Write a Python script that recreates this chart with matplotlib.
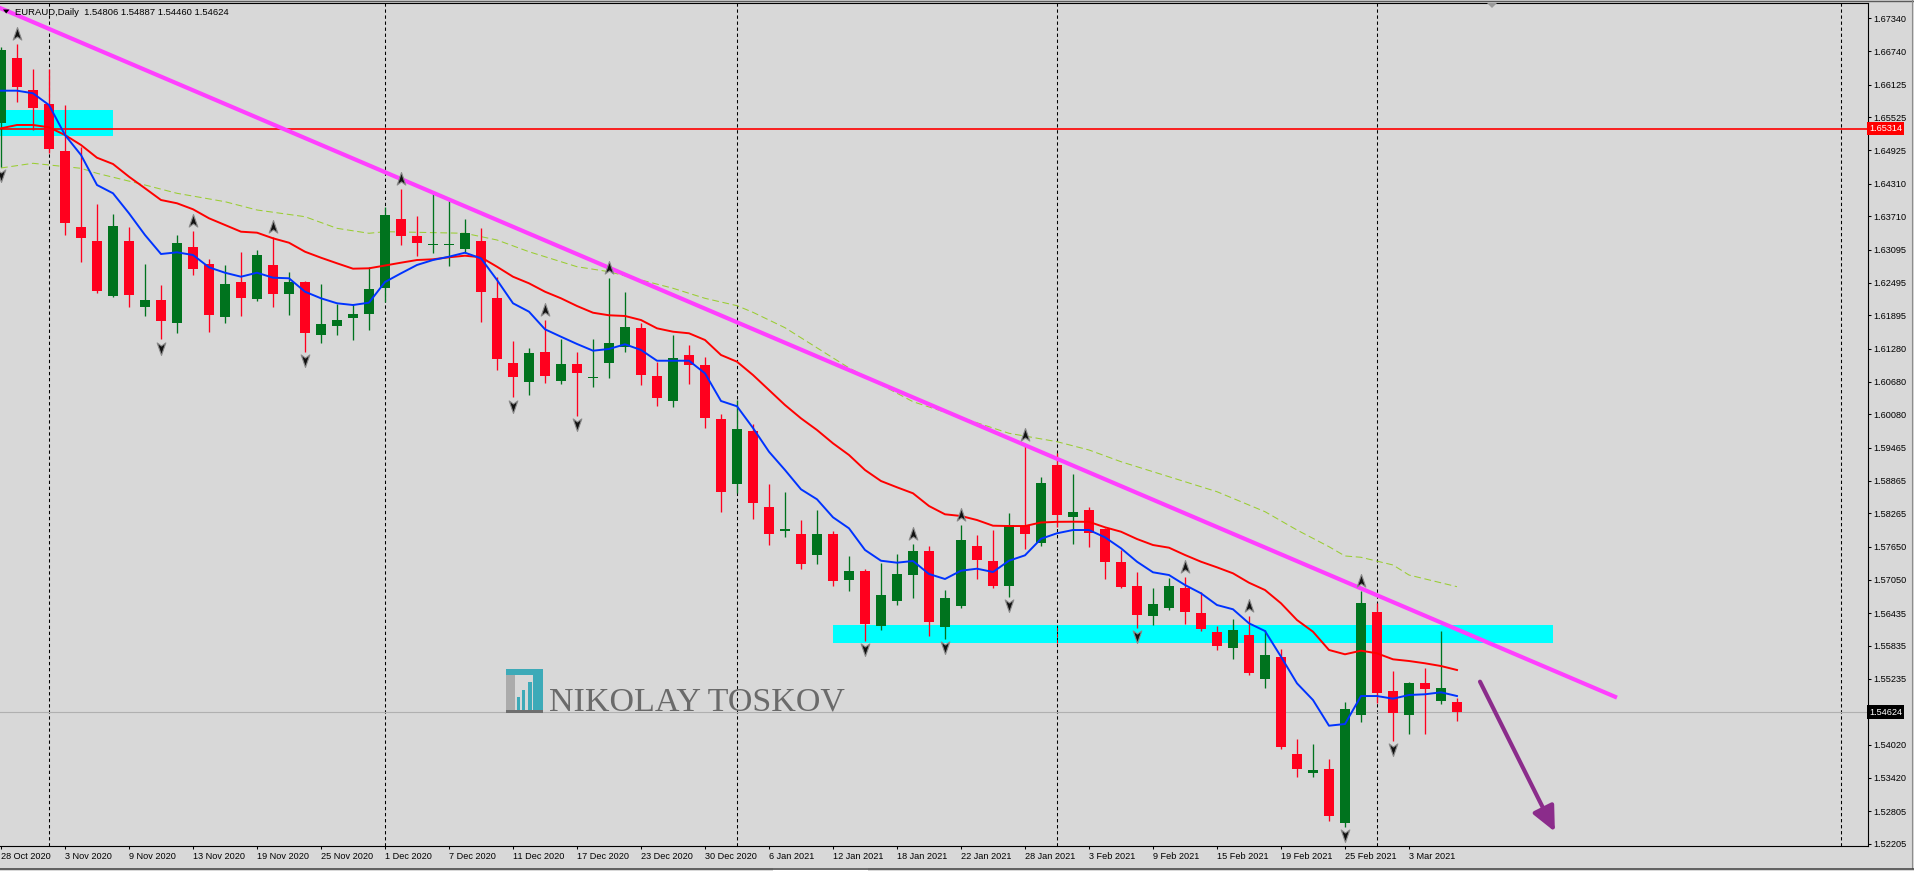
import matplotlib
matplotlib.use("Agg")
import matplotlib.pyplot as plt
import matplotlib.transforms as mtransforms
from matplotlib.patches import Rectangle, Polygon
from matplotlib.path import Path
import numpy as np

plt.rcParams['font.family'] = ['Liberation Sans', 'DejaVu Sans']

W, H = 1915, 871
BG = '#D8D8D8'
BULL = '#00731E'
BEAR = '#FF001E'

# EURAUD daily candles, 28 Oct 2020 .. 8 Mar 2021
opens = [
    1.65421, 1.66618, 1.66026, 1.65769, 1.64907, 1.63509, 1.63258, 1.62255, 1.63258, 1.62042,
    1.62176, 1.61749, 1.63148, 1.62836, 1.61870, 1.62506, 1.62194, 1.62818, 1.62292, 1.62506,
    1.61540, 1.61705, 1.61852, 1.61925, 1.62402, 1.63661, 1.63349, 1.63184, 1.63179, 1.63105,
    1.63258, 1.62218, 1.61027, 1.60678, 1.61223, 1.60697, 1.61003, 1.60746, 1.61027, 1.61320,
    1.61663, 1.60783, 1.60330, 1.61168, 1.60985, 1.59995, 1.58798, 1.59775, 1.58382, 1.57948,
    1.57887, 1.57508, 1.57887, 1.57049, 1.57209, 1.56206, 1.56664, 1.57141, 1.57575, 1.56188,
    1.56573, 1.57667, 1.57392, 1.56939, 1.58033, 1.57727, 1.59152, 1.58204, 1.58321, 1.57978,
    1.57374, 1.56934, 1.56389, 1.56536, 1.56897, 1.56439, 1.56096, 1.55803, 1.56036, 1.55235,
    1.55633, 1.53855, 1.53511, 1.53579, 1.52595, 1.54569, 1.56457, 1.55009, 1.54575, 1.55156,
    1.54831, 1.54806]
highs = [
    1.66810, 1.66869, 1.66411, 1.66411, 1.65751, 1.64986, 1.63936, 1.63747, 1.63509, 1.62836,
    1.62451, 1.63368, 1.63446, 1.62928, 1.62818, 1.63056, 1.63093, 1.63336, 1.62689, 1.62520,
    1.62469, 1.62103, 1.62103, 1.62786, 1.63886, 1.64211, 1.63716, 1.64132, 1.64009, 1.63661,
    1.63501, 1.62592, 1.61425, 1.61291, 1.61809, 1.61461, 1.61223, 1.61461, 1.62585, 1.62323,
    1.61760, 1.61045, 1.61534, 1.61351, 1.61137, 1.60087, 1.60343, 1.59898, 1.58804, 1.58657,
    1.58144, 1.58327, 1.57942, 1.57489, 1.57245, 1.57355, 1.57520, 1.57704, 1.57667, 1.56860,
    1.58052, 1.57868, 1.57960, 1.58272, 1.59518, 1.58932, 1.59372, 1.58987, 1.58388, 1.57990,
    1.57594, 1.57185, 1.56897, 1.57075, 1.57099, 1.56829, 1.56200, 1.56329, 1.56389, 1.56127,
    1.55779, 1.54129, 1.54038, 1.53763, 1.54802, 1.56848, 1.56622, 1.55376, 1.55174, 1.55431,
    1.56109, 1.54887]
lows = [
    1.64614, 1.65811, 1.65293, 1.64865, 1.63368, 1.62867, 1.62299, 1.62240, 1.62053, 1.61888,
    1.61456, 1.61577, 1.62634, 1.61595, 1.61760, 1.61888, 1.62163, 1.62053, 1.61907, 1.61223,
    1.61393, 1.61540, 1.61443, 1.61626, 1.62145, 1.63184, 1.62983, 1.63032, 1.62799, 1.63032,
    1.61778, 1.60893, 1.60393, 1.60435, 1.60660, 1.60631, 1.60050, 1.60587, 1.60752, 1.61228,
    1.60618, 1.60233, 1.60220, 1.60636, 1.59836, 1.58296, 1.58633, 1.58157, 1.57686, 1.57838,
    1.57251, 1.57343, 1.56939, 1.56848, 1.55931, 1.56133, 1.56591, 1.56719, 1.56023, 1.55968,
    1.56536, 1.57067, 1.56903, 1.56738, 1.57617, 1.57672, 1.58021, 1.57704, 1.57655, 1.57067,
    1.56903, 1.56169, 1.56224, 1.56499, 1.56243, 1.56114, 1.55766, 1.55601, 1.55308, 1.55070,
    1.53941, 1.53438, 1.53438, 1.52632, 1.52522, 1.54447, 1.54795, 1.54098, 1.54226, 1.54226,
    1.54776, 1.54460]
closes = [
    1.66759, 1.66086, 1.65701, 1.64939, 1.63582, 1.63318, 1.62346, 1.63527, 1.62273, 1.62176,
    1.61797, 1.63221, 1.62750, 1.61907, 1.62469, 1.62218, 1.63001, 1.62292, 1.62511, 1.61566,
    1.61737, 1.61809, 1.61919, 1.62378, 1.63734, 1.63355, 1.63226, 1.63203, 1.63197, 1.63399,
    1.62328, 1.61095, 1.60765, 1.61210, 1.60783, 1.61003, 1.60843, 1.60770, 1.61388, 1.61681,
    1.60807, 1.60386, 1.61113, 1.60990, 1.60019, 1.58663, 1.59812, 1.58461, 1.57893, 1.57984,
    1.57343, 1.57887, 1.57031, 1.57209, 1.56243, 1.56769, 1.57154, 1.57575, 1.56279, 1.56714,
    1.57777, 1.57416, 1.56939, 1.58052, 1.57893, 1.58822, 1.58241, 1.58290, 1.57911, 1.57379,
    1.56921, 1.56408, 1.56604, 1.56934, 1.56463, 1.56151, 1.55834, 1.56127, 1.55345, 1.55669,
    1.53988, 1.53585, 1.53561, 1.52718, 1.54679, 1.56622, 1.54978, 1.54611, 1.55156, 1.55051,
    1.55064, 1.54624]

# moving averages
ma_fast = [
    1.66013, 1.66013, 1.65965, 1.65750, 1.65200, 1.64834, 1.64284, 1.64132, 1.63765, 1.63367,
    1.63019, 1.63050, 1.63001, 1.62775, 1.62676, 1.62603, 1.62676, 1.62585, 1.62574, 1.62328,
    1.62207, 1.62116, 1.62084, 1.62127, 1.62506, 1.62665, 1.62818, 1.62909, 1.62970, 1.63043,
    1.62940, 1.62543, 1.62116, 1.61962, 1.61639, 1.61503, 1.61370, 1.61247, 1.61278, 1.61364,
    1.61260, 1.61063, 1.61063, 1.61063, 1.60832, 1.60325, 1.60228, 1.59830, 1.59395, 1.59060,
    1.58706, 1.58523, 1.58193, 1.57991, 1.57594, 1.57397, 1.57361, 1.57392, 1.57154, 1.57062,
    1.57214, 1.57251, 1.57190, 1.57397, 1.57496, 1.57799, 1.57900, 1.57960, 1.57960, 1.57826,
    1.57625, 1.57379, 1.57185, 1.57135, 1.56952, 1.56800, 1.56585, 1.56507, 1.56250, 1.56109,
    1.55638, 1.55150, 1.54844, 1.54373, 1.54404, 1.54917, 1.54917, 1.54868, 1.54936, 1.54949,
    1.54985, 1.54917]
ma_mid = [
    1.65323, 1.65384, 1.65384, 1.65342, 1.65200, 1.65017, 1.64784, 1.64669, 1.64436, 1.64224,
    1.64009, 1.63949, 1.63839, 1.63674, 1.63551, 1.63428, 1.63410, 1.63307, 1.63226, 1.63061,
    1.62951, 1.62849, 1.62750, 1.62757, 1.62808, 1.62860, 1.62909, 1.62922, 1.62959, 1.62988,
    1.62959, 1.62786, 1.62603, 1.62482, 1.62328, 1.62207, 1.62066, 1.61943, 1.61896, 1.61883,
    1.61809, 1.61657, 1.61595, 1.61566, 1.61443, 1.61168, 1.61045, 1.60801, 1.60526, 1.60251,
    1.60007, 1.59793, 1.59549, 1.59335, 1.59060, 1.58858, 1.58743, 1.58633, 1.58400, 1.58248,
    1.58217, 1.58143, 1.58039, 1.58033, 1.58033, 1.58098, 1.58110, 1.58112, 1.58110, 1.58010,
    1.57929, 1.57795, 1.57685, 1.57636, 1.57502, 1.57379, 1.57276, 1.57166, 1.56994, 1.56860,
    1.56617, 1.56310, 1.56096, 1.55761, 1.55682, 1.55748, 1.55700, 1.55590, 1.55559, 1.55517,
    1.55467, 1.55394]
ma_slow_bars = [0, 2, 5, 6, 9, 11, 14, 16, 19, 21, 23, 24, 26, 29, 31, 33, 36, 38, 40, 42,
                44, 46, 47, 49, 53, 57, 63, 66, 68, 70, 73, 76, 79, 81, 83, 84, 85, 87, 88, 91]
ma_slow = [1.64596, 1.64682, 1.64590, 1.64498, 1.64284, 1.64132, 1.63978, 1.63826, 1.63703, 1.63490,
           1.63399, 1.63428, 1.63417, 1.63399, 1.63276, 1.63061, 1.62786, 1.62695, 1.62543, 1.62391,
           1.62207, 1.62072, 1.61950, 1.61668, 1.60931, 1.60312, 1.59733, 1.59579, 1.59427, 1.59212,
           1.58937, 1.58662, 1.58296, 1.57960, 1.57654, 1.57484, 1.57460, 1.57319, 1.57135, 1.56921]

fractal_up = [1, 12, 17, 25, 34, 38, 57, 60, 64, 74, 78, 85]
fractal_down = [0, 10, 19, 32, 36, 54, 59, 63, 71, 84, 87]

date_labels = ['28 Oct 2020', '3 Nov 2020', '9 Nov 2020', '13 Nov 2020', '19 Nov 2020',
               '25 Nov 2020', '1 Dec 2020', '7 Dec 2020', '11 Dec 2020', '17 Dec 2020',
               '23 Dec 2020', '30 Dec 2020', '6 Jan 2021', '12 Jan 2021', '18 Jan 2021',
               '22 Jan 2021', '28 Jan 2021', '3 Feb 2021', '9 Feb 2021', '15 Feb 2021',
               '19 Feb 2021', '25 Feb 2021', '3 Mar 2021']
label_bars = list(range(0, 89, 4))
month_starts = [3, 24, 46, 66, 86, 115]

price_ticks = [1.67340, 1.66740, 1.66125, 1.65525, 1.64925, 1.64310, 1.63710, 1.63095,
               1.62495, 1.61895, 1.61280, 1.60680, 1.60080, 1.59465, 1.58865, 1.58265,
               1.57650, 1.57050, 1.56435, 1.55835, 1.55235, 1.54020, 1.53420, 1.52805, 1.52205]

level_price = 1.65314
bid_price = 1.54624
zone_top = (-1, 7, 1.65182, 1.65659)
zone_mid = (52, 97, 1.55895, 1.56219)
trend_bars = [-1, 101]
trend_prices = [1.67646, 1.54888]
arrow_from = (92.44, 1.55180)
arrow_to = (97.12, 1.52430)


fig = plt.figure(figsize=(W / 100, H / 100), dpi=100, facecolor=BG)
ax = fig.add_axes([0, 1 - 846 / H, 1867.7 / W, 843 / H])
ax.set_facecolor(BG)
ax.set_xlim(-0.0625, 116.67)
ax.set_ylim(1.52168, 1.67620)

# zones
for x0, x1, p0, p1 in (zone_top, zone_mid):
    ax.add_patch(Rectangle((x0, p0), x1 - x0, p1 - p0, facecolor='#00FFFF',
                           edgecolor='none', zorder=1))

# period separators
for b in month_starts:
    ax.axvline(b, color='black', lw=0.75, ls=(0, (3.2, 2.6)), zorder=1.5)
for b in month_starts:
    if zone_mid[0] < b < zone_mid[1]:
        ax.vlines(b, zone_mid[2], zone_mid[3], color='#FF0000', lw=0.75,
                  ls=(0, (3.2, 2.6)), zorder=1.6)

ax.axhline(bid_price, color='#B0B0B0', lw=0.8, zorder=1.7)
ax.axhline(level_price, color='#FF0000', lw=1.2, zorder=2)

ax.plot(ma_slow_bars, ma_slow, color='#9ACD32', lw=0.75, ls=(0, (6.5, 3.5)), zorder=2.2)

# candles
x = np.arange(len(opens))
o = np.array(opens)
c = np.array(closes)
cols = np.where(c > o, BULL, BEAR)
ax.vlines(x, lows, highs, colors=cols, lw=0.95, zorder=3)
min_h = 0.00022
body_h = np.abs(c - o)
mid = (o + c) / 2
bottom = np.where(body_h < min_h, mid - min_h / 2, np.minimum(o, c))
body_h = np.maximum(body_h, min_h)
ax.bar(x, body_h, bottom=bottom, width=0.67, color=cols, linewidth=0, zorder=4)

ax.plot(x, ma_mid, color='#FF0000', lw=1.4, zorder=5)
ax.plot(x, ma_fast, color='#0033FF', lw=1.4, zorder=5.1)
ax.plot(trend_bars, trend_prices, color='#FF40FF', lw=3.0, zorder=6, solid_capstyle='butt')

# fractal arrows
up_path = Path([(0, 1), (0.62, -0.8), (0, -0.35), (-0.62, -0.8), (0, 1)],
               [Path.MOVETO, Path.LINETO, Path.LINETO, Path.LINETO, Path.CLOSEPOLY])
down_path = Path([(0, -1), (0.62, 0.8), (0, 0.35), (-0.62, 0.8), (0, -1)],
                 [Path.MOVETO, Path.LINETO, Path.LINETO, Path.LINETO, Path.CLOSEPOLY])
up_tr = mtransforms.offset_copy(ax.transData, fig=fig, y=7.2, units='points')
dn_tr = mtransforms.offset_copy(ax.transData, fig=fig, y=-6.0, units='points')
ax.plot(fractal_up, [highs[i] for i in fractal_up], ls='none', marker=up_path, ms=10,
        mfc='#111111', mec='#8A8A8A', mew=0.8, transform=up_tr, zorder=7)
ax.plot(fractal_down, [lows[i] for i in fractal_down], ls='none', marker=down_path, ms=10,
        mfc='#111111', mec='#8A8A8A', mew=0.8, transform=dn_tr, zorder=7)

ax.annotate('', xy=arrow_to, xytext=arrow_from,
            arrowprops=dict(arrowstyle='-|>,head_length=1.5,head_width=0.7',
                            mutation_scale=10, lw=3.0, color='#8B2C8B',
                            shrinkA=0, shrinkB=0), zorder=7)

# axes look
for s in ('top', 'right', 'bottom'):
    ax.spines[s].set_color('black')
    ax.spines[s].set_linewidth(0.8)
ax.spines['left'].set_visible(False)
ax.yaxis.tick_right()
ax.set_yticks(price_ticks, [f'{p:.5f}' for p in price_ticks])
ax.set_xticks(label_bars, date_labels, ha='left')
ax.tick_params(axis='y', direction='out', length=2.4, width=0.75, pad=1.5,
               labelsize=6.6, colors='black')
ax.tick_params(axis='x', direction='out', length=2.4, width=0.75, pad=2.0,
               labelsize=6.6, colors='black')

blend = mtransforms.blended_transform_factory(ax.transAxes, ax.transData)
ax.text(1.0009, level_price, f'{level_price:.5f}', transform=blend, ha='left', va='center',
        fontsize=6.6, color='white',
        bbox=dict(boxstyle='square,pad=0.22', fc='#FF0000', ec='none'), zorder=9)
ax.text(1.0009, bid_price, f'{bid_price:.5f}', transform=blend, ha='left', va='center',
        fontsize=6.6, color='white',
        bbox=dict(boxstyle='square,pad=0.22', fc='black', ec='none'), zorder=9)


def fx(px):
    return px / W


def fy(py):
    return 1 - py / H


# header text
fig.add_artist(Polygon([(fx(3), fy(9.5)), (fx(9.5), fy(9.5)), (fx(6.2), fy(13.5))],
                       closed=True, fc='black', ec='none', transform=fig.transFigure))
fig.text(fx(15.5), fy(15), 'EURAUD,Daily  1.54806 1.54887 1.54460 1.54624',
         fontsize=6.8, color='black', va='baseline', ha='left')

# chart shift marker
fig.add_artist(Polygon([(fx(1487), fy(3)), (fx(1497), fy(3)), (fx(1492), fy(8))],
                       closed=True, fc='#9A9A9A', ec='none', transform=fig.transFigure))

# watermark logo
logo = [
    (505.7, 669.3, 27.5, 5.7, '#3DAAB8'),
    (533.0, 669.3, 10.3, 40.7, '#3DAAB8'),
    (505.7, 675.0, 9.3, 35.0, '#ABABAB'),
    (517.3, 697.0, 2.7, 13.0, '#3DAAB8'),
    (521.7, 690.0, 3.3, 20.0, '#3DAAB8'),
    (528.3, 681.7, 3.4, 28.3, '#3DAAB8'),
    (505.7, 710.0, 37.6, 2.5, '#6E6E6E'),
]
for lx, ly, lw_, lh, lc in logo:
    fig.add_artist(Rectangle((fx(lx), fy(ly + lh)), lw_ / W, lh / H, fc=lc, ec='none',
                             transform=fig.transFigure, zorder=8))
fig.text(fx(549), fy(710), 'NIKOLAY TOSKOV', family=['Liberation Serif', 'DejaVu Serif'],
         fontsize=24.5, color='#6A6A6A', va='baseline', ha='left', zorder=8)

# window frame bits
fig.add_artist(plt.Line2D([0, 1], [fy(1.5), fy(1.5)], color='#5A5A5A', lw=1.0,
                          transform=fig.transFigure))
fig.add_artist(plt.Line2D([fx(1912), fx(1912)], [fy(0), fy(868)], color='#8C8C8C', lw=0.8,
                          transform=fig.transFigure))
fig.add_artist(plt.Line2D([0, 1], [fy(868.5), fy(868.5)], color='#404040', lw=1.1,
                          transform=fig.transFigure))
fig.add_artist(Rectangle((fx(773), fy(871)), 95 / W, 3 / H, fc='white', ec='none',
                         transform=fig.transFigure))

fig.savefig('out.png', dpi=100, facecolor=BG)
